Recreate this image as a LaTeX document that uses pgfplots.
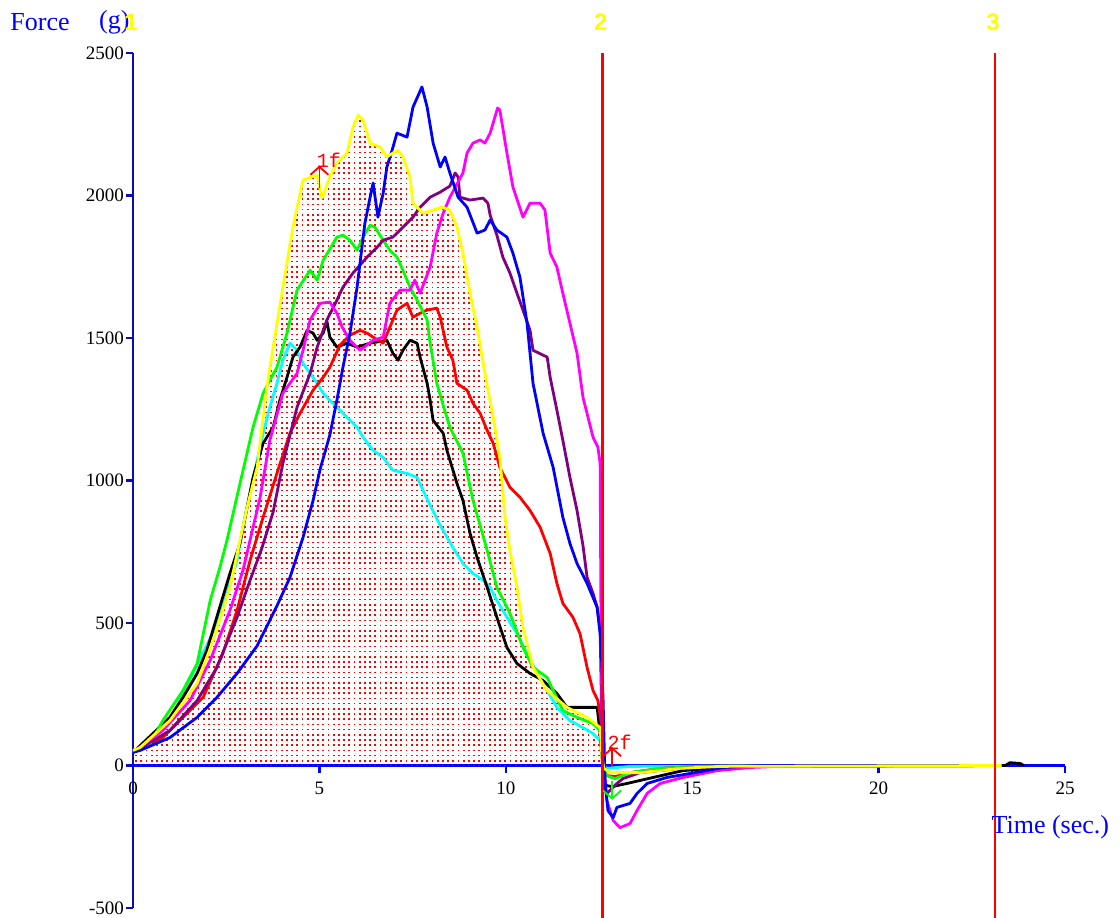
\documentclass[border=0pt]{standalone}
\usepackage{pgfplots}
\pgfplotsset{compat=1.18}
\usepackage{fontspec}
\setmainfont{Liberation Serif}
\newfontfamily\sansb{Liberation Sans}
\newfontfamily\mono{Liberation Mono}
\usetikzlibrary{patterns,arrows.meta}
\pgfdeclarepatternformonly{reddots}{\pgfpoint{-1pt}{-1pt}}{\pgfpoint{3pt}{3pt}}{\pgfpoint{2.6pt}{2.6pt}}{%
  \pgfpathrectangle{\pgfpoint{0pt}{0pt}}{\pgfpoint{0.85pt}{0.85pt}}\pgfusepath{fill}}
\definecolor{cyel}{RGB}{255,255,0}
\definecolor{cblu}{RGB}{0,0,255}
\definecolor{cmag}{RGB}{255,0,255}
\definecolor{cpur}{RGB}{128,0,128}
\definecolor{cgrn}{RGB}{0,255,0}
\definecolor{cred}{RGB}{255,0,0}
\definecolor{ccya}{RGB}{0,255,255}
\definecolor{axblue}{RGB}{10,10,190}
\begin{document}
\begin{tikzpicture}
\begin{axis}[
  scale only axis, width=466pt, height=427.5pt,
  xmin=0, xmax=25, ymin=-500, ymax=2500,
  axis x line=middle, axis y line=left,
  axis line style={-},
  x axis line style={cblu, line width=1.2pt},
  y axis line style={axblue, line width=1.2pt},
  xtick={0,5,...,25}, ytick={-500,0,500,...,2500},
  tick align=outside, major tick length=3.5pt,
  x tick style={cblu, line width=1.2pt},
  y tick style={axblue, line width=1.2pt},
  hide obscured x ticks=false, hide obscured y ticks=false,
  ticklabel style={font=\fontsize{9.5}{10}\selectfont, black},
  xticklabel style={yshift=-1pt},
  yticklabel style={xshift=2.5pt},
  /pgf/number format/assume math mode=true,
  /pgf/number format/set thousands separator={},
  clip=false,
  every axis plot/.append style={line width=1.4pt, mark=none, line join=round},
]
% filled area under yellow curve
\addplot[draw=none, pattern=reddots, pattern color=cred] coordinates {
(0,0)(0,53)(0.19,63)(0.99,158)(1.72,288)(2.15,439)(2.60,625)(3.06,906)(3.33,1046)(3.59,1327)(3.76,1468)(4.02,1678)(4.29,1889)(4.56,2054)(4.94,2072)(5.07,1991)(5.28,2065)(5.47,2114)(5.74,2149)(5.90,2240)(6.04,2282)(6.17,2265)(6.36,2184)(6.63,2170)(6.81,2135)(6.97,2149)(7.11,2159)(7.24,2135)(7.43,2065)(7.51,1973)(7.78,1938)(8.05,1949)(8.29,1959)(8.50,1949)(8.69,1889)(8.85,1798)(9.04,1657)(9.23,1538)(9.44,1376)(9.66,1222)(9.84,1081)(9.98,871)(10.11,755)(10.30,625)(10.46,485)(10.73,344)(11.11,263)(11.64,204)(12.18,169)(12.53,133)(12.58,28)(12.6,0)
};
% cyan
\addplot[ccya] coordinates {
(0,46)(0.99,158)(2.28,502)(2.79,720)(2.95,836)(3.14,955)(3.33,1071)(3.49,1166)(3.67,1257)(3.86,1341)(4.02,1422)(4.21,1482)(4.40,1457)(4.56,1411)(4.75,1376)(4.94,1341)(5.10,1306)(5.28,1282)(5.55,1247)(5.74,1222)(6.01,1187)(6.17,1152)(6.44,1106)(6.71,1081)(6.97,1036)(7.35,1025)(7.62,1011)(7.78,966)(7.97,913)(8.24,843)(8.58,765)(8.85,709)(9.12,674)(9.39,650)(9.58,625)(9.76,579)(10.03,520)(10.30,463)(10.57,393)(10.84,323)(11.11,263)(11.37,204)(11.72,158)(12.07,133)(12.34,112)(12.53,88)(12.61,10)(12.69,-10)(13.33,-3)(23.3,0)
};
% black
\addplot[black] coordinates {
(0,46)(0.99,169)(1.34,239)(1.72,323)(1.98,404)(2.60,674)(2.87,779)(3.06,906)(3.22,1011)(3.49,1131)(3.76,1187)(3.94,1282)(4.13,1362)(4.29,1433)(4.48,1468)(4.67,1527)(4.83,1517)(4.94,1492)(5.10,1517)(5.20,1559)(5.28,1503)(5.47,1468)(5.74,1482)(6.01,1468)(6.36,1482)(6.81,1492)(6.97,1447)(7.11,1422)(7.24,1457)(7.43,1492)(7.62,1482)(7.70,1433)(7.89,1341)(7.97,1282)(8.05,1211)(8.32,1166)(8.42,1106)(8.69,990)(8.85,930)(9.04,815)(9.23,730)(9.50,625)(9.76,520)(10.03,414)(10.30,358)(10.65,323)(11.00,298)(11.37,253)(11.64,204)(12.45,204)(12.53,112)(12.61,-18)(12.69,-70)(12.85,-74)(13.25,-63)(13.95,-42)(14.75,-18)(15.75,-7)(16.8,0)(23.4,0)(23.52,10)(23.8,7)(23.9,0)
};
% red
\addplot[cred] coordinates {
(0,46)(0.80,98)(1.34,169)(1.88,239)(2.41,393)(2.79,544)(3.14,720)(3.49,871)(3.86,1025)(4.21,1166)(4.48,1236)(4.83,1317)(5.10,1362)(5.28,1397)(5.55,1475)(5.82,1510)(6.09,1527)(6.28,1517)(6.44,1503)(6.71,1482)(6.89,1538)(7.08,1598)(7.35,1622)(7.51,1573)(7.70,1587)(7.89,1598)(8.15,1605)(8.24,1573)(8.42,1468)(8.58,1422)(8.69,1341)(8.96,1317)(9.12,1271)(9.31,1236)(9.50,1176)(9.66,1131)(9.84,1046)(10.11,976)(10.38,941)(10.65,895)(10.92,836)(11.19,744)(11.37,639)(11.53,569)(11.80,520)(11.99,463)(12.18,344)(12.34,263)(12.47,228)(12.55,158)(12.61,18)(12.69,-35)(12.93,-39)(13.33,-25)(14.14,-10)(15.2,-3)(23.3,0)
};
% green
\addplot[cgrn] coordinates {
(0,46)(0.46,77)(0.80,158)(1.34,263)(1.72,358)(2.07,579)(2.33,695)(2.52,790)(2.87,990)(3.22,1187)(3.49,1306)(3.67,1352)(3.86,1397)(4.13,1517)(4.40,1668)(4.75,1738)(4.94,1703)(5.10,1773)(5.47,1854)(5.63,1861)(5.82,1843)(6.01,1808)(6.17,1854)(6.36,1896)(6.49,1889)(6.71,1843)(6.89,1808)(7.08,1784)(7.24,1738)(7.43,1678)(7.62,1633)(7.89,1563)(7.97,1482)(8.15,1341)(8.32,1264)(8.50,1187)(8.85,1096)(9.12,930)(9.50,755)(9.76,625)(10.11,534)(10.46,414)(10.73,344)(11.11,309)(11.27,263)(11.53,193)(11.91,169)(12.34,147)(12.53,123)(12.61,18)(12.69,-35)(12.93,-46)(13.33,-25)(14.14,-10)(15.2,-3)(23.3,0)
};
% purple
\addplot[cpur] coordinates {
(0,46)(0.99,123)(1.72,228)(2.25,344)(2.79,520)(3.14,650)(3.45,760)(3.76,890)(4.02,1060)(4.40,1257)(4.75,1376)(4.94,1468)(5.20,1563)(5.47,1633)(5.63,1678)(5.90,1728)(6.28,1784)(6.55,1819)(6.71,1843)(6.97,1854)(7.24,1889)(7.51,1924)(7.70,1959)(7.97,1994)(8.24,2012)(8.50,2033)(8.64,2079)(8.72,2065)(8.77,1994)(9.04,1984)(9.39,1991)(9.52,1973)(9.58,1931)(9.76,1861)(9.92,1784)(10.11,1728)(10.30,1657)(10.46,1598)(10.65,1527)(10.73,1457)(11.11,1433)(11.19,1362)(11.37,1247)(11.53,1141)(11.72,1011)(11.91,895)(12.07,772)(12.18,660)(12.34,604)(12.45,555)(12.53,474)(12.58,123)(12.63,-88)(12.71,-98)(12.98,-63)(13.14,-46)(13.60,-25)(14.67,-10)(15.75,-3)(23.3,0)
};
% magenta
\addplot[cmag] coordinates {
(0,46)(0.80,123)(1.53,228)(2.07,369)(2.60,544)(2.95,685)(3.41,941)(3.67,1141)(4.02,1306)(4.40,1376)(4.56,1457)(4.75,1563)(5.02,1622)(5.28,1626)(5.47,1587)(5.61,1538)(5.82,1492)(6.09,1457)(6.44,1492)(6.71,1503)(6.89,1622)(7.16,1668)(7.43,1668)(7.56,1703)(7.70,1657)(7.97,1749)(8.15,1868)(8.32,1938)(8.50,1994)(8.85,2079)(8.96,2149)(9.12,2184)(9.31,2195)(9.44,2184)(9.58,2219)(9.78,2307)(9.84,2300)(10.03,2149)(10.19,2030)(10.46,1924)(10.65,1973)(10.92,1973)(11.05,1949)(11.19,1798)(11.37,1749)(11.53,1657)(11.72,1552)(11.91,1447)(12.07,1292)(12.34,1152)(12.47,1117)(12.53,1060)(12.55,579)(12.58,158)(12.63,0)(12.71,-123)(12.88,-193)(13.06,-218)(13.33,-204)(13.52,-158)(13.79,-98)(14.14,-63)(14.75,-42)(15.67,-18)(16.55,-7)(17.9,0)(23.3,0)
};
% blue
\addplot[cblu] coordinates {
(0,46)(0.19,53)(0.99,98)(1.72,169)(2.25,239)(2.79,323)(3.33,420)(3.86,560)(4.21,660)(4.56,800)(4.83,930)(5.02,1040)(5.28,1160)(5.47,1282)(5.63,1397)(5.82,1517)(6.01,1678)(6.22,1903)(6.36,1994)(6.44,2044)(6.57,1924)(6.71,2008)(6.81,2100)(6.95,2159)(7.08,2219)(7.35,2205)(7.51,2310)(7.75,2381)(7.89,2310)(8.05,2184)(8.24,2100)(8.37,2135)(8.50,2079)(8.72,1994)(8.96,1959)(9.23,1868)(9.44,1879)(9.58,1914)(9.76,1879)(10.03,1854)(10.19,1798)(10.38,1713)(10.57,1552)(10.73,1341)(11.00,1166)(11.27,1046)(11.53,871)(11.72,779)(11.91,709)(12.18,639)(12.45,555)(12.55,439)(12.61,228)(12.66,-53)(12.74,-158)(12.88,-183)(12.98,-147)(13.33,-133)(13.52,-98)(13.79,-63)(14.32,-42)(14.94,-28)(15.83,-7)(16.8,0)(23.3,0)
};
% yellow
\addplot[cyel] coordinates {
(0,53)(0.19,63)(0.99,158)(1.72,288)(2.15,439)(2.60,625)(3.06,906)(3.33,1046)(3.59,1327)(3.76,1468)(4.02,1678)(4.29,1889)(4.56,2054)(4.94,2072)(5.07,1991)(5.28,2065)(5.47,2114)(5.74,2149)(5.90,2240)(6.04,2282)(6.17,2265)(6.36,2184)(6.63,2170)(6.81,2135)(6.97,2149)(7.11,2159)(7.24,2135)(7.43,2065)(7.51,1973)(7.78,1938)(8.05,1949)(8.29,1959)(8.50,1949)(8.69,1889)(8.85,1798)(9.04,1657)(9.23,1538)(9.44,1376)(9.66,1222)(9.84,1081)(9.98,871)(10.11,755)(10.30,625)(10.46,485)(10.73,344)(11.11,263)(11.64,204)(12.18,169)(12.53,133)(12.58,28)(12.63,-10)(12.80,-25)(13.60,-25)(14.67,-10)(15.75,-3)(23.3,0)
};
% vertical event lines
\draw[cred, line width=1.3pt] (axis cs:12.6,-534) -- (axis cs:12.6,2500);
\draw[cred, line width=1.3pt] (axis cs:23.12,-534) -- (axis cs:23.12,2500);
% markers
\draw[cred, line width=0.9pt, -{Straight Barb[length=4pt,width=9pt]}] (axis cs:5.0,2025) -- (axis cs:5.0,2105);
\node[anchor=west, inner sep=0pt, text=cred, font=\mono\fontsize{10}{10}\selectfont] at (axis cs:4.92,2124) {1f};
\draw[cred, line width=0.9pt, -{Straight Barb[length=4pt,width=9pt]}] (axis cs:12.85,0) -- (axis cs:12.85,65);
\node[anchor=west, inner sep=0pt, text=cred, font=\mono\fontsize{10}{10}\selectfont] at (axis cs:12.72,81) {2f};
\draw[cgrn, line width=0.9pt, -{Straight Barb[length=4pt,width=9pt]}] (axis cs:12.85,-55) -- (axis cs:12.85,-120);
% titles
\node[anchor=west, inner sep=0pt, text=cblu, font=\fontsize{13}{13}\selectfont] at (axis cs:-3.30,2609) {Force};
\node[anchor=west, inner sep=0pt, text=cblu, font=\fontsize{13}{13}\selectfont] at (axis cs:-0.92,2609) {(g)};
\node[inner sep=0pt, text=cyel, font=\sansb\bfseries\fontsize{12}{12}\selectfont] at (axis cs:-0.05,2609) {1};
\node[anchor=west, inner sep=0pt, text=cblu, font=\fontsize{13}{13}\selectfont] at (axis cs:23.02,-218) {Time (sec.)};
\node[inner sep=0pt, text=cyel, font=\sansb\bfseries\fontsize{12}{12}\selectfont] at (axis cs:12.55,2609) {2};
\node[inner sep=0pt, text=cyel, font=\sansb\bfseries\fontsize{12}{12}\selectfont] at (axis cs:23.07,2609) {3};
\coordinate (TL) at (axis cs:-3.568,2686.1);
\coordinate (BR) at (axis cs:26.475,-533.7);
\end{axis}
\pgfresetboundingbox
\useasboundingbox (TL) rectangle (BR);
\end{tikzpicture}
\end{document}
